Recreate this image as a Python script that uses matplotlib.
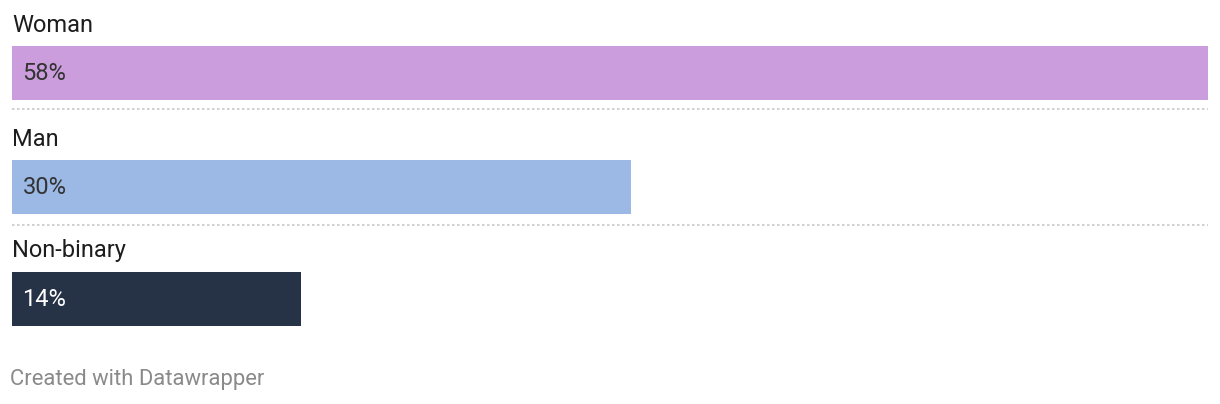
import matplotlib.pyplot as plt

categories = ["Woman", "Man", "Non-binary"]
values = [58, 30, 14]
value_labels = ["58%", "30%", "14%"]
bar_colors = ["#cb9ddd", "#9bb9e4", "#263346"]
text_colors = ["#333333", "#333333", "#ffffff"]

W, H = 1220, 404
plt.rcParams['font.family'] = ['Roboto', 'DejaVu Sans']

fig = plt.figure(figsize=(W / 100, H / 100), dpi=100)
ax = fig.add_axes([0, 0, 1, 1])

# x in percent, 0 at 12px and 58 at 1208px; y in pixels from the top
px = 58 / 1196
ax.set_xlim(-12 * px, (W - 12) * px)
ax.set_ylim(H, 0)
ax.axis("off")

bar_top = [46, 160, 272]
sep_y = [109, 225]
for i, (cat, v) in enumerate(zip(categories, values)):
    yc = bar_top[i] + 27
    ax.barh(yc, v, height=54, left=0, color=bar_colors[i])
    ax.text(0, yc - 48, cat, fontsize=17, color="#1d1d1d", va="center", ha="left")
    ax.text(10.5 * px, yc + 0.5, value_labels[i], fontsize=17, color=text_colors[i],
            va="center", ha="left")

for sy in sep_y:
    ax.plot([0, 58], [sy, sy], color="#c8c8c8", lw=1.2, linestyle=(0, (1.5, 1.5)))

ax.text(-2 * px, 379, "Created with Datawrapper", fontsize=15.8, color="#8a8a8a",
        va="center", ha="left")

fig.savefig("out.png", dpi=100)
